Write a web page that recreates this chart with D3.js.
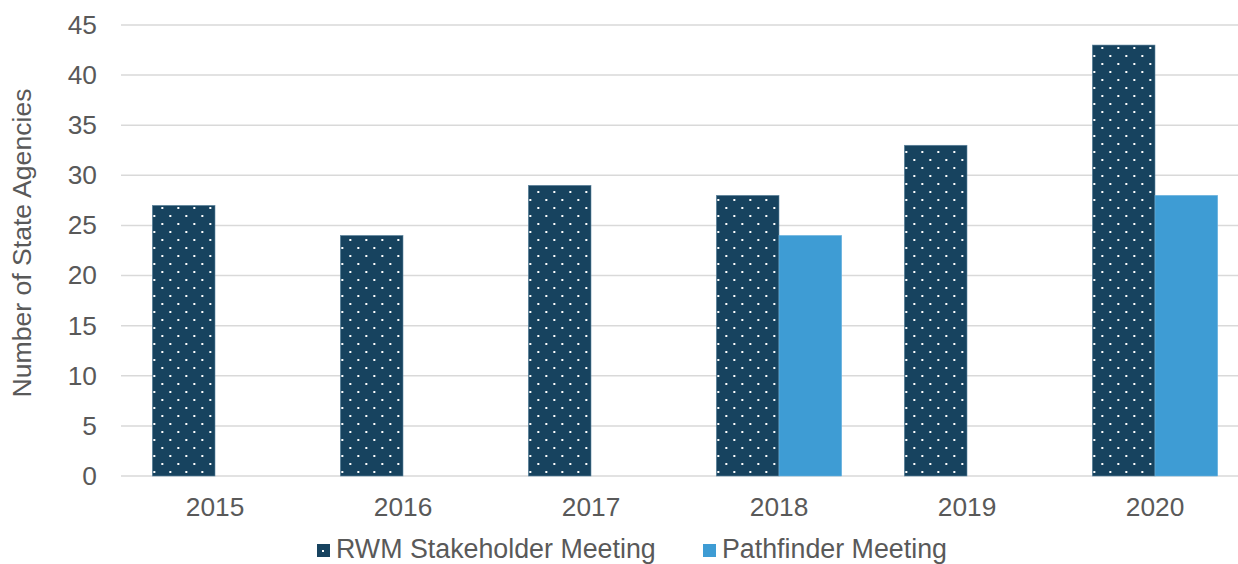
<!DOCTYPE html>
<html>
<head>
<meta charset="utf-8">
<script src="https://cdn.jsdelivr.net/npm/d3@7"></script>
<style>
  html, body { margin: 0; padding: 0; background: #fff; overflow: hidden; }
  svg { display: block; font-family: "Liberation Sans", Arial, sans-serif; }
</style>
</head>
<body>
<svg id="chart" width="1238" height="564"></svg>
<script>
const years = ["2015", "2016", "2017", "2018", "2019", "2020"];
const seriesNames = ["RWM Stakeholder Meeting", "Pathfinder Meeting"];
const rwmValues = [27, 24, 29, 28, 33, 43];
const pathfinderValues = [0, 0, 0, 24, 0, 28];
const yTicks = [0, 5, 10, 15, 20, 25, 30, 35, 40, 45];
const yTitle = "Number of State Agencies";

const W = 1238, H = 564;
const FS = 26.3;
const margin = { left: 121, right: -11, top: 25, bottom: 88 };
const svg = d3.select("#chart");

const defs = svg.append("defs");
const pat = defs.append("pattern")
  .attr("id", "dots").attr("patternUnits", "userSpaceOnUse")
  .attr("width", 16).attr("height", 16).attr("x", 9).attr("y", 15);
pat.append("rect").attr("width", 16).attr("height", 16).attr("fill", "#17435f");
pat.append("rect").attr("x", 0).attr("y", 0).attr("width", 2).attr("height", 2).attr("fill", "#fff");
pat.append("rect").attr("x", 8).attr("y", 8).attr("width", 2).attr("height", 2).attr("fill", "#fff");

const x0 = d3.scaleBand().domain(years).range([margin.left, W - margin.right]).paddingInner(1/3).paddingOuter(1/6);
const x1 = d3.scaleBand().domain(seriesNames).range([0, x0.bandwidth()]);
const y = d3.scaleLinear().domain([0, 45]).range([H - margin.bottom, margin.top]);

// gridlines
svg.append("g").selectAll("line").data(yTicks).join("line")
  .attr("x1", margin.left).attr("x2", W)
  .attr("y1", d => y(d)).attr("y2", d => y(d))
  .attr("stroke", "#d9d9d9").attr("stroke-width", 1.5);

// y axis labels
const yAxis = d3.axisLeft(y).tickValues(yTicks).tickSize(0).tickPadding(0);
const ya = svg.append("g").attr("transform", `translate(${97},0)`).call(yAxis);
ya.select(".domain").remove();
ya.selectAll("text").attr("font-size", FS).attr("fill", "#595959")
  .attr("font-family", "Liberation Sans, Arial, sans-serif");

// x axis labels
const xAxis = d3.axisBottom(x0).tickSize(0).tickPadding(0);
const xa = svg.append("g").attr("transform", `translate(0,${y(0) + 21})`).call(xAxis);
xa.select(".domain").remove();
xa.selectAll("text").attr("font-size", FS).attr("fill", "#595959")
  .attr("font-family", "Liberation Sans, Arial, sans-serif");

// bars
const data = years.map((yr, i) => ({ year: yr, vals: [rwmValues[i], pathfinderValues[i]] }));
const groups = svg.append("g").selectAll("g").data(data).join("g")
  .attr("transform", d => `translate(${x0(d.year)},0)`);
groups.selectAll("rect").data(d => d.vals.map((v, j) => ({ v, s: seriesNames[j] })))
  .join("rect")
  .filter(d => d.v > 0)
  .attr("x", d => x1(d.s))
  .attr("width", x1.bandwidth())
  .attr("y", d => y(d.v))
  .attr("height", d => y(0) - y(d.v))
  .attr("fill", d => d.s === seriesNames[0] ? "url(#dots)" : "#3e9cd4")
  .attr("stroke", d => d.s === seriesNames[0] ? "#5f86a0" : "#6ab3de")
  .attr("stroke-width", 0.6);

// y title
svg.append("text")
  .attr("transform", `translate(31,${243}) rotate(-90)`)
  .attr("text-anchor", "middle")
  .attr("font-size", 26.6).attr("fill", "#595959")
  .text(yTitle);

// legend
const legend = svg.append("g").attr("transform", `translate(0,${549})`);
const legendX = [317, 703];
seriesNames.forEach((name, i) => {
  const g = legend.append("g").attr("transform", `translate(${legendX[i]},0)`);
  g.append("rect").attr("x", 0).attr("y", -5).attr("width", 13).attr("height", 13)
    .attr("fill", i === 0 ? "#17435f" : "#3e9cd4");
  if (i === 0) g.append("rect").attr("x", 5).attr("y", 1).attr("width", 2).attr("height", 2).attr("fill", "#fff");
  g.append("text").attr("x", 19).attr("y", 9).attr("font-size", 26.8).attr("fill", "#595959").text(name);
});
</script>
</body>
</html>
